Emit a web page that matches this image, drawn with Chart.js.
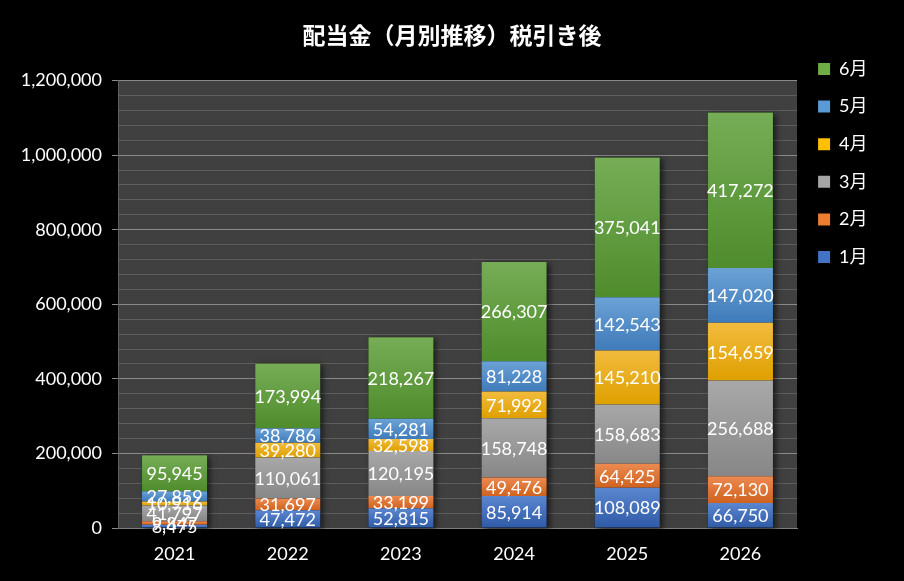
<!DOCTYPE html>
<html><head><meta charset="utf-8">
<script src="https://cdn.jsdelivr.net/npm/chart.js@4.4.0/dist/chart.umd.min.js"></script>
<style>html,body{margin:0;padding:0;background:#000;overflow:hidden;} #wrap{width:904px;height:581px;position:relative;}</style>
</head><body><div id="wrap"><canvas id="c"></canvas></div>
<script>
const chartTitle = '配当金（月別推移）税引き後';
const categories = ['2021', '2022', '2023', '2024', '2025', '2026'];
const seriesNames = ['1月', '2月', '3月', '4月', '5月', '6月'];
const jan = [8475, 47472, 52815, 85914, 108089, 66750];
const feb = [9847, 31697, 33199, 49476, 64425, 72130];
const mar = [41797, 110061, 120195, 158748, 158683, 256688];
const apr = [10916, 39280, 32598, 71992, 145210, 154659];
const may = [27859, 38786, 54281, 81228, 142543, 147020];
const jun = [95945, 173994, 218267, 266307, 375041, 417272];
const yMax = 1200000;
const yMajorStep = 200000;
const yMinorStep = 40000;

const seriesValues = [jan, feb, mar, apr, may, jun];
const colorTop = ['#5b86d0', '#ec8a50', '#a8a8a8', '#f2bb3e', '#6ba2d6', '#76ad56'];
const colorBottom = ['#2e5aa6', '#cf621f', '#878787', '#dfa000', '#3f7bba', '#4f8c2c'];
const colorLegend = ['#4472c4', '#ed7d31', '#a5a5a5', '#ffc000', '#5b9bd5', '#70ad47'];
const FONT = 'Lato, "Noto Sans CJK JP", sans-serif';

function segFill(i) {
  return function (ctx) {
    const chart = ctx.chart;
    if (ctx.type !== 'data') return colorLegend[i];
    const y = chart.scales && chart.scales.y;
    if (!y || !chart.chartArea) return colorLegend[i];
    let base = 0;
    for (let k = 0; k < i; k++) base += seriesValues[k][ctx.dataIndex];
    const yt = y.getPixelForValue(base + ctx.raw);
    const yb = y.getPixelForValue(base);
    if (!isFinite(yt) || !isFinite(yb) || yt === yb) return colorLegend[i];
    const g = chart.ctx.createLinearGradient(0, yt, 0, yb);
    g.addColorStop(0, colorTop[i]);
    g.addColorStop(1, colorBottom[i]);
    return g;
  };
}

const plotBg = {
  id: 'plotBg',
  beforeLayout(chart) {
    const lg = chart.legend;
    if (lg && !lg._fixedW) {
      const f = lg.fit.bind(lg);
      lg.fit = function () { f(); this.width = 107; };
      lg._fixedW = true;
    }
  },
  afterLayout(chart) {
    const lg = chart.legend;
    if (lg) {
      lg.top = 40.4;
      lg.left += 1.5; lg.right += 1.5;
      if (lg.adjustHitBoxes) lg.adjustHitBoxes();
    }
  },
  beforeDraw(chart) {
    const a = chart.chartArea; const c = chart.ctx;
    c.save(); c.fillStyle = '#404040'; c.fillRect(a.left, a.top, a.right - a.left, a.bottom - a.top); c.restore();
  },
  beforeDatasetsDraw(chart) {
    const c = chart.ctx;
    const first = chart.getDatasetMeta(0);
    const last = chart.getDatasetMeta(chart.data.datasets.length - 1);
    c.save();
    c.shadowColor = 'rgba(0,0,0,0.6)';
    c.shadowBlur = 6; c.shadowOffsetX = 3; c.shadowOffsetY = 2;
    c.fillStyle = '#000';
    first.data.forEach((el, j) => {
      const b = el.getProps(['x', 'base', 'width'], true);
      const t = last.data[j].getProps(['y'], true);
      c.fillRect(b.x - b.width / 2, t.y, b.width, b.base - t.y);
    });
    c.restore();
  },
  afterDatasetsDraw(chart) {
    const c = chart.ctx;
    c.save();
    c.font = '18px ' + FONT;
    c.fillStyle = '#fff';
    c.textAlign = 'center'; c.textBaseline = 'middle';
    chart.data.datasets.forEach((ds, i) => {
      const meta = chart.getDatasetMeta(i);
      meta.data.forEach((el, j) => {
        const p = el.getProps(['x', 'y', 'base'], true);
        c.fillText(ds.data[j].toLocaleString('en-US'), p.x, (p.y + p.base) / 2 + 1);
      });
    });
    c.restore();
  }
};

new Chart(document.getElementById('c'), {
  type: 'bar',
  data: {
    labels: categories,
    datasets: seriesNames.map((n, i) => ({
      label: n,
      data: seriesValues[i],
      backgroundColor: segFill(i),
      borderWidth: 0,
      barPercentage: 0.575,
      categoryPercentage: 1
    }))
  },
  options: {
    responsive: true,
    maintainAspectRatio: false,
    animation: false,
    devicePixelRatio: 1,
    layout: { padding: { left: 0, right: 0, top: 0, bottom: 0 } },
    plugins: {
      title: {
        display: true, text: chartTitle, color: '#fff',
        font: { family: FONT, size: 23, weight: 'bold' },
        padding: { top: 23, bottom: 30 }
      },
      legend: {
        position: 'right', align: 'start', reverse: true,
        labels: {
          color: '#fff', boxWidth: 12, boxHeight: 12, padding: 19.6,
          font: { family: FONT, size: 18 },
          generateLabels(chart) {
            return chart.data.datasets.map((ds, i) => ({
              text: ds.label, fillStyle: colorLegend[i], strokeStyle: colorLegend[i],
              lineWidth: 0, hidden: false, datasetIndex: i, fontColor: '#fff'
            }));
          }
        }
      },
      tooltip: { enabled: false }
    },
    scales: {
      x: {
        stacked: true,
        grid: { display: false, drawTicks: false },
        border: { display: true, color: '#7f7f7f' },
        ticks: { color: '#fff', font: { family: FONT, size: 18 }, padding: 15 },
        afterFit(s) { s.height = 53; }
      },
      y: {
        stacked: true, min: 0, max: yMax,
        grid: {
          color: (c) => (c.tick && c.tick.value % yMajorStep === 0) ? '#8a8a8a' : '#5e5e5e',
          tickColor: (c) => (c.tick && c.tick.value % yMajorStep === 0) ? '#8a8a8a' : 'rgba(0,0,0,0)',
          tickLength: 6, lineWidth: 1
        },
        border: { display: true, color: '#5e5e5e' },
        ticks: {
          stepSize: yMinorStep, autoSkip: false, color: '#fff', padding: 10,
          font: { family: FONT, size: 18 },
          callback: (v) => (v % yMajorStep === 0) ? Number(v).toLocaleString('en-US') : ''
        },
        afterFit(s) { s.width = 118; }
      }
    }
  },
  plugins: [plotBg]
});
</script>
</body></html>
